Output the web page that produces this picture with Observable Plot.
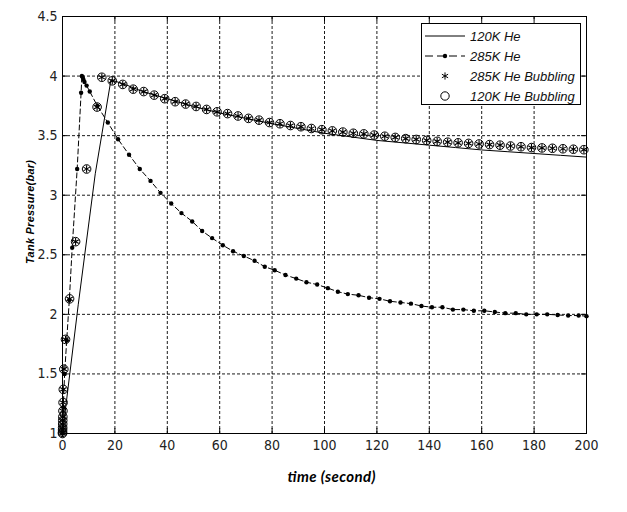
<!DOCTYPE html>
<html><head><meta charset="utf-8">
<script src="https://cdn.jsdelivr.net/npm/d3@7"></script>
<script src="https://cdn.jsdelivr.net/npm/@observablehq/plot@0.6"></script>
<style>
body{margin:0;background:#fff;}
#wrap{position:relative;width:627px;height:512px;overflow:hidden;}
#legend{position:absolute;left:421px;top:23px;}
</style></head><body><div id="wrap"></div>
<script>
// ---- data ----
const xTicks = [0, 20, 40, 60, 80, 100, 120, 140, 160, 180, 200];
const yTicks = [1, 1.5, 2, 2.5, 3, 3.5, 4, 4.5];

const he120Time = [0, 6, 12.5, 18.5, 25, 30, 40, 50, 60, 70, 80, 90, 100, 110, 120, 130, 140, 150, 160, 170, 180, 190, 200];
const he120P    = [1.00, 2.08, 3.18, 3.97, 3.92, 3.875, 3.81, 3.745, 3.69, 3.645, 3.60, 3.56, 3.52, 3.49, 3.46, 3.44, 3.42, 3.40, 3.38, 3.365, 3.35, 3.335, 3.32];

const he285Time = [0, 0.3, 0.8, 1.6, 2.6, 3.7, 5.6, 7.1, 7.4, 7.7, 8.0, 8.4, 9.2, 10.4, 13.3, 17.3, 21.2, 25.4, 29.5, 33.6, 37.4, 41.5, 45.4, 49.5, 53.3, 57.1, 61.2, 65.1, 69.2, 73.3, 77.2, 81, 85.1, 89.2, 93.1, 97.2, 101.3, 105.1, 108.9, 113, 117, 121, 125, 129, 133, 137, 141, 145, 149, 153, 157, 161, 165, 169, 173, 177, 181, 185, 189, 193, 197, 200];
const he285P    = [1.00, 1.22, 1.50, 1.78, 2.12, 2.56, 3.22, 3.86, 4.00, 3.99, 3.97, 3.95, 3.92, 3.87, 3.75, 3.61, 3.47, 3.34, 3.22, 3.12, 3.02, 2.93, 2.85, 2.78, 2.70, 2.64, 2.58, 2.53, 2.49, 2.45, 2.40, 2.37, 2.33, 2.30, 2.27, 2.25, 2.22, 2.19, 2.17, 2.16, 2.14, 2.13, 2.11, 2.10, 2.09, 2.07, 2.06, 2.06, 2.04, 2.04, 2.03, 2.03, 2.02, 2.01, 2.01, 2.00, 2.00, 2.00, 1.995, 1.99, 1.99, 1.985];

const bubbleTime = [0, 0.02, 0.04, 0.06, 0.08, 0.1, 0.13, 0.17, 0.22, 0.3, 0.5, 1.15, 2.7, 5.0, 9.2, 13.2, 15, 19, 23, 27, 31, 35, 39, 43, 47, 51, 55, 59, 63, 67, 71, 75, 79, 83, 87, 91, 95, 99, 103, 107, 111, 115, 119, 123, 127, 131, 135, 139, 143, 147, 151, 155, 159, 163, 167, 171, 175, 179, 183, 187, 191, 195, 199];
const bubbleP    = [1.00, 1.01, 1.03, 1.05, 1.08, 1.11, 1.14, 1.19, 1.26, 1.37, 1.54, 1.79, 2.13, 2.61, 3.22, 3.74, 3.99, 3.96, 3.93, 3.89, 3.87, 3.84, 3.81, 3.785, 3.765, 3.745, 3.72, 3.70, 3.685, 3.665, 3.645, 3.63, 3.61, 3.60, 3.585, 3.575, 3.56, 3.55, 3.54, 3.53, 3.52, 3.515, 3.505, 3.495, 3.485, 3.475, 3.468, 3.46, 3.452, 3.445, 3.44, 3.435, 3.43, 3.425, 3.42, 3.413, 3.407, 3.40, 3.397, 3.394, 3.39, 3.386, 3.382];

const legendLabels = ["120K He", "285K He", "285K He Bubbling", "120K He Bubbling"];
const xLabel = "time (second)";
const yLabel = "Tank Pressure(bar)";

// ---- build ----
const zip = (t, p) => t.map((d, i) => ({t: d, p: p[i]}));
const he120 = zip(he120Time, he120P);
const he285 = zip(he285Time, he285P);
const bubble = zip(bubbleTime, bubbleP);

const W = 627, H = 512, mL = 62, mR = 41, mT = 16, mB = 79;
const plotW = W - mL - mR, plotH = H - mT - mB;
const tickFont = "'Liberation Sans Narrow', 'Arial Narrow', 'DejaVu Sans Condensed', sans-serif";

const chart = Plot.plot({
  width: W, height: H,
  marginLeft: mL, marginRight: mR, marginTop: mT, marginBottom: mB,
  style: {background: "white", color: "black", fontFamily: tickFont},
  x: {domain: [0, 200], label: null},
  y: {domain: [1, 4.5], label: null},
  marks: [
    Plot.gridX(xTicks, {stroke: "black", strokeOpacity: 1, strokeDasharray: "3,2", strokeWidth: 0.9}),
    Plot.gridY(yTicks, {stroke: "black", strokeOpacity: 1, strokeDasharray: "3,2", strokeWidth: 0.9}),
    Plot.frame({stroke: "black", strokeWidth: 1}),
    Plot.tickX(xTicks, {x: d => d, insetTop: plotH - 5, stroke: "black"}),
    Plot.tickX(xTicks, {x: d => d, insetBottom: plotH - 5, stroke: "black"}),
    Plot.tickY(yTicks, {y: d => d, insetRight: plotW - 5, stroke: "black"}),
    Plot.tickY(yTicks, {y: d => d, insetLeft: plotW - 5, stroke: "black"}),
    Plot.axisX(xTicks, {tickSize: 0, tickPadding: 7, tickFormat: d => String(d), fontSize: 14, fill: "#222", label: null}),
    Plot.axisY(yTicks, {tickSize: 0, tickPadding: 5, tickFormat: d => String(d), fontSize: 14, fill: "#222", label: null}),
    Plot.line(he120, {x: "t", y: "p", stroke: "black", strokeWidth: 1}),
    Plot.line(he285, {x: "t", y: "p", stroke: "black", strokeWidth: 1, strokeDasharray: "5,3"}),
    Plot.dot(he285, {x: "t", y: "p", r: 2.2, fill: "black"}),
    Plot.dot(bubble, {x: "t", y: "p", r: 4.3, stroke: "black", fill: "white", fillOpacity: 0, strokeWidth: 1}),
    Plot.dot(bubble, {x: "t", y: "p", symbol: "asterisk", r: 3.5, stroke: "black", strokeWidth: 1.1}),
    Plot.text([yLabel], {frameAnchor: "left", textAnchor: "middle", lineAnchor: "middle", dx: -32, dy: -13, rotate: -90, text: d => d,
      fontSize: 11, fontWeight: "bold", fontStyle: "italic", fontFamily: "'Liberation Sans', Arial, sans-serif", fill: "black"}),
    Plot.text([xLabel], {frameAnchor: "bottom", textAnchor: "middle", lineAnchor: "middle", dx: 7, dy: 44, text: d => d,
      fontSize: 15, fontWeight: "bold", fontStyle: "italic", fontFamily: "Lato, 'Open Sans', sans-serif", fill: "black"})
  ]
});

// widen the y label letter spacing like the original
d3.select(chart).selectAll("text").filter(function() { return this.textContent === yLabel; })
  .attr("textLength", 104).attr("lengthAdjust", "spacing");
d3.select(chart).selectAll("text").filter(function() { return this.textContent === xLabel; })
  .attr("textLength", 88).attr("lengthAdjust", "spacing");

const wrap = document.getElementById("wrap");
wrap.appendChild(chart);

// ---- legend ----
const lw = 160, lh = 82;
const leg = d3.select(wrap).append("svg").attr("id", "legend").attr("width", lw).attr("height", lh);
leg.append("rect").attr("x", 0.5).attr("y", 0.5).attr("width", lw - 1).attr("height", lh - 1)
  .attr("fill", "white").attr("stroke", "black");
const rowY = i => 13 + i * 20;
legendLabels.forEach((lab, i) => {
  const g = leg.append("g").attr("transform", `translate(0,${rowY(i)})`);
  const cx = 24;
  if (i === 0) {
    g.append("line").attr("x1", 4).attr("x2", 44).attr("stroke", "black");
  } else if (i === 1) {
    g.append("line").attr("x1", 4).attr("x2", 44).attr("stroke", "black").attr("stroke-dasharray", "8,4");
    g.append("circle").attr("cx", cx).attr("r", 2.2).attr("fill", "black");
  } else if (i === 2) {
    g.append("path").attr("transform", `translate(${cx},0)`).attr("d", d3.symbol(d3.symbolAsterisk, 36)()).attr("stroke", "black").attr("fill", "none");
  } else {
    g.append("circle").attr("cx", cx).attr("r", 4.2).attr("fill", "none").attr("stroke", "black");
  }
  g.append("text").attr("x", 49).attr("dy", "0.35em").text(lab)
    .attr("font-family", "'Liberation Sans', Arial, sans-serif").attr("font-style", "italic").attr("font-size", 13).attr("fill", "#111");
});
</script></body></html>
